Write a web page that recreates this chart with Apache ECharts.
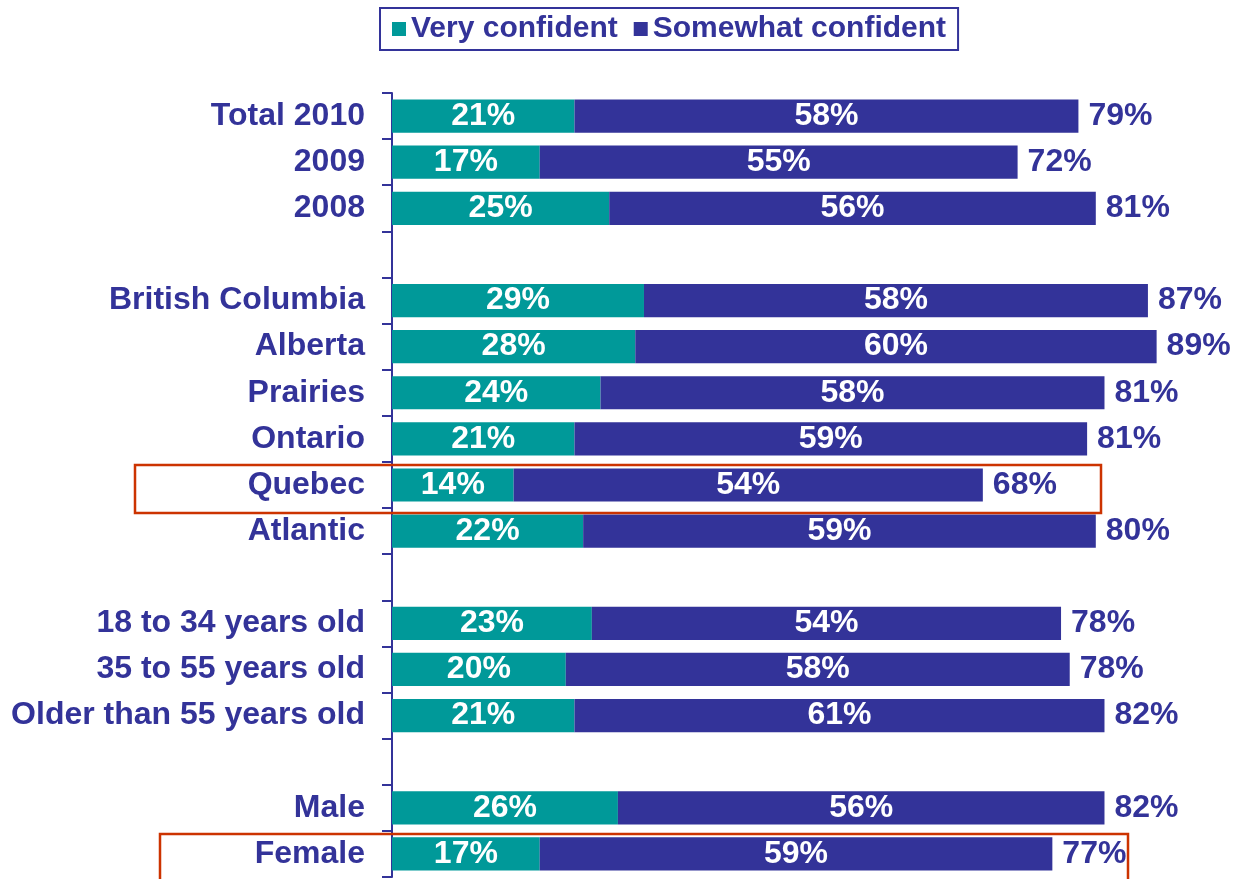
<!DOCTYPE html>
<html>
<head>
<meta charset="utf-8">
<title>Confidence</title>
<script src="https://cdn.jsdelivr.net/npm/echarts@6/dist/echarts.min.js"></script>
<style>
  html, body { margin: 0; padding: 0; background: #fff; }
  #chart { width: 1234px; height: 879px; }
</style>
</head>
<body>
<div id="chart"></div>
<script>
// categories, '' marks a spacer row between groups
const categories = [
  'Total 2010', '2009', '2008', '',
  'British Columbia', 'Alberta', 'Prairies', 'Ontario', 'Quebec', 'Atlantic', '',
  '18 to 34 years old', '35 to 55 years old', 'Older than 55 years old', '',
  'Male', 'Female'
]
const veryConfident = [21, 17, 25, '-', 29, 28, 24, 21, 14, 22, '-', 23, 20, 21, '-', 26, 17]
const somewhatConfident = [58, 55, 56, '-', 58, 60, 58, 59, 54, 59, '-', 54, 58, 61, '-', 56, 59]
const totals = [79, 72, 81, '-', 87, 89, 81, 81, 68, 80, '-', 78, 78, 82, '-', 82, 77]
// rows outlined in the original
const highlighted = ['Quebec', 'Female']

const FONT = '"Liberation Sans", Arial, sans-serif'
const BLUE = '#333399'
const TEAL = '#009999'

const chart = echarts.init(document.querySelector('#chart'))

const insideLabel = {
  show: true,
  position: 'inside',
  color: '#fff',
  fontFamily: FONT,
  fontWeight: 'bold',
  fontSize: 32,
  padding: [4, 0, 0, 0],
  formatter: p => p.value + '%'
}

const option = {
  animation: false,
  legend: {
    data: ['Very confident', 'Somewhat confident'],
    left: 380,
    top: 8,
    padding: [6, 12, 6, 12],
    itemGap: 16,
    itemWidth: 14,
    itemHeight: 14,
    icon: 'rect',
    borderColor: BLUE,
    borderWidth: 2,
    textStyle: { color: BLUE, fontFamily: FONT, fontWeight: 'bold', fontSize: 30 }
  },
  grid: { left: 392, right: 60, top: 93, bottom: 2, containLabel: false },
  xAxis: {
    type: 'value',
    min: 0,
    max: 90,
    show: false
  },
  yAxis: {
    type: 'category',
    inverse: true,
    data: categories,
    axisLine: { lineStyle: { color: BLUE, width: 2 } },
    axisTick: { show: true, length: 10, lineStyle: { color: BLUE, width: 2 } },
    axisLabel: {
      color: BLUE,
      fontFamily: FONT,
      fontWeight: 'bold',
      fontSize: 32,
      margin: 27,
      padding: [4, 0, 0, 0],
      interval: 0
    }
  },
  series: [
    {
      name: 'Very confident', type: 'bar', stack: 'all',
      barCategoryGap: '28%',
      itemStyle: { color: TEAL },
      label: insideLabel,
      data: veryConfident
    },
    {
      name: 'Somewhat confident', type: 'bar', stack: 'all',
      itemStyle: { color: BLUE },
      label: insideLabel,
      data: somewhatConfident
    },
    {
      name: 'Total', type: 'bar', stack: 'all',
      itemStyle: { color: 'transparent' },
      label: {
        show: true,
        position: 'right',
        distance: 10,
        color: BLUE,
        fontFamily: FONT,
        fontWeight: 'bold',
        fontSize: 32,
        padding: [4, 0, 0, 0],
        formatter: p => totals[p.dataIndex] + '%'
      },
      data: totals.map(t => t === '-' ? '-' : 0)
    }
  ]
}

chart.setOption(option)

// outline boxes around the highlighted rows
const boxX = { 'Quebec': [135, 1101], 'Female': [160, 1128] }
const graphics = highlighted.map(name => {
  const yc = chart.convertToPixel({ yAxisIndex: 0 }, name)
  const x = boxX[name]
  return {
    type: 'rect',
    shape: { x: x[0], y: yc - 20, width: x[1] - x[0], height: 48 },
    style: { fill: 'none', stroke: '#cc3300', lineWidth: 2.5 },
    z: 100
  }
})
chart.setOption({ graphic: graphics })
</script>
</body>
</html>
